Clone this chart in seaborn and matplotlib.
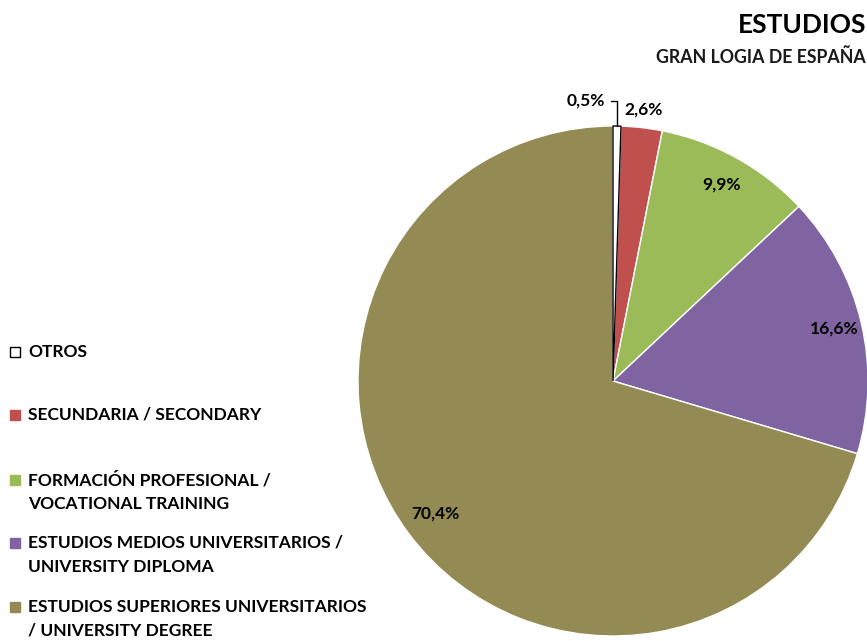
import numpy as np
import matplotlib
matplotlib.use("Agg")
import matplotlib.pyplot as plt
from matplotlib.patches import Rectangle
import seaborn as sns

# data
categories = ["OTROS",
              "SECUNDARIA / SECONDARY",
              "FORMACIÓN PROFESIONAL /\nVOCATIONAL TRAINING",
              "ESTUDIOS MEDIOS UNIVERSITARIOS /\nUNIVERSITY DIPLOMA",
              "ESTUDIOS SUPERIORES UNIVERSITARIOS\n/ UNIVERSITY DEGREE"]
values = [0.5, 2.6, 9.9, 16.6, 70.4]
value_labels = ["0,5%", "2,6%", "9,9%", "16,6%", "70,4%"]
colors = ["#FFFFFF", "#C0504D", "#9BBB59", "#8064A2", "#948A54"]
label_radius = [None, 1.07, 0.88, 0.89, 0.87]

sns.set_theme(style="white")
plt.rcParams['font.family'] = ['Lato', 'DejaVu Sans']
plt.rcParams['font.weight'] = 'bold'

W, H = 867, 641
fig = plt.figure(figsize=(W / 100, H / 100), dpi=100)

# pie axes placed in pixel terms: center (613,381), radius 255
cx, cy, r = 613, 381, 255
ax = fig.add_axes([(cx - r) / W, (H - cy - r) / H, 2 * r / W, 2 * r / H])
wedges, _ = ax.pie(values, colors=colors, startangle=90, counterclock=False,
                   radius=1, wedgeprops=dict(edgecolor="white", linewidth=1.0))
wedges[0].set_edgecolor("black")
wedges[0].set_linewidth(1.0)
wedges[0].set_zorder(3)
ax.set_xlim(-1, 1)
ax.set_ylim(-1, 1)
ax.set_aspect("auto")
ax.axis("off")

# value labels
for w, lab, lr in zip(wedges, value_labels, label_radius):
    mid = np.deg2rad((w.theta1 + w.theta2) / 2)
    if lr is None:
        # small slice: leader line up and to the left
        x0, y0 = np.cos(mid), np.sin(mid)
        ax.annotate(lab, xy=(x0, y0), xytext=(-0.03, 1.098),
                    ha="right", va="center", fontsize=12.5, fontweight="bold",
                    color="black", annotation_clip=False,
                    arrowprops=dict(arrowstyle="-", color="black", lw=1,
                                    shrinkA=2, shrinkB=0,
                                    connectionstyle="angle,angleA=0,angleB=90,rad=0"))
    else:
        ax.text(lr * np.cos(mid), lr * np.sin(mid), lab, ha="center", va="center",
                fontsize=12.5, fontweight="bold", color="black")

# titles
fig.text(866 / W, 1 - 25 / H, "ESTUDIOS", ha="right", va="center",
         fontsize=19, fontweight="bold", color="black")
fig.text(866 / W, 1 - 57 / H, "GRAN LOGIA DE ESPAÑA", ha="right", va="center",
         fontsize=12.8, fontweight="bold", color="#1a1a1a")

# legend
legend_y = [352, 415, 480, 543, 607]
for lab, col, y in zip(categories, colors, legend_y):
    fig.patches.append(Rectangle((10 / W, 1 - (y + 5) / H), 10 / W, 10 / H,
                                 transform=fig.transFigure, facecolor=col,
                                 edgecolor="black" if col == "#FFFFFF" else col,
                                 linewidth=1))
    fig.text(28 / W, 1 - (y - 8) / H, lab, ha="left", va="top",
             fontsize=12.5, fontweight="bold", color="black", linespacing=1.6)

fig.savefig("out.png", dpi=100)
